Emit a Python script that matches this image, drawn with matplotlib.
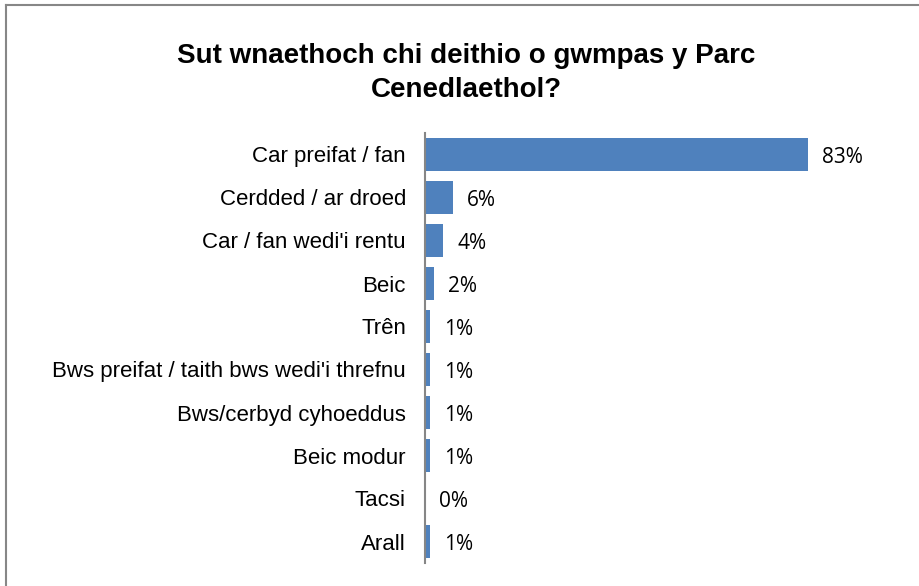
import matplotlib
matplotlib.use("Agg")
import matplotlib.pyplot as plt
from matplotlib.lines import Line2D

categories = ["Car preifat / fan", "Cerdded / ar droed", "Car / fan wedi'i rentu", "Beic", "Trên",
              "Bws preifat / taith bws wedi'i threfnu", "Bws/cerbyd cyhoeddus", "Beic modur", "Tacsi", "Arall"]
values = [83, 6, 4, 2, 1, 1, 1, 1, 0, 1]
value_labels = ["83%", "6%", "4%", "2%", "1%", "1%", "1%", "1%", "0%", "1%"]
title_lines = ["Sut wnaethoch chi deithio o gwmpas y Parc", "Cenedlaethol?"]

W, H = 920, 586
fig = plt.figure(figsize=(W / 100, H / 100), dpi=100)

ax_left, ax_right = 425, 425 + 90 * 383 / 83
ax_top, ax_bot = 133, 563
ax = fig.add_axes([ax_left / W, 1 - ax_bot / H, (ax_right - ax_left) / W, (ax_bot - ax_top) / H])

y = list(range(len(categories)))
ax.barh(y, values, height=0.76, color="#4F81BD")
ax.set_xlim(0, 90)
ax.set_ylim(len(categories) - 0.5, -0.5)
ax.set_yticks(y)
ax.set_yticklabels(categories, fontsize=16, family="Liberation Sans")
ax.tick_params(axis="y", length=0, pad=13.7)
ax.set_xticks([])
for s in ["top", "right", "bottom"]:
    ax.spines[s].set_visible(False)
ax.spines["left"].set_color("#868686")
ax.spines["left"].set_linewidth(1.5)

for yi, v, lab in zip(y, values, value_labels):
    ax.annotate(lab, (v, yi), xytext=(14, -3), textcoords="offset pixels",
                ha="left", va="center", fontsize=15, family="Open Sans")

for line, base in zip(title_lines, [63, 97]):
    fig.text(466 / W, 1 - base / H, line, ha="center", va="baseline", fontsize=20,
             fontweight="bold", family="Liberation Sans")

# outer chart border (top and left visible)
fig.add_artist(Line2D([6.5 / W, 1.0], [1 - 4.5 / H, 1 - 4.5 / H], transform=fig.transFigure,
                      color="#878787", linewidth=1.5))
fig.add_artist(Line2D([6.5 / W, 6.5 / W], [0, 1 - 4.5 / H], transform=fig.transFigure,
                      color="#878787", linewidth=1.5))

fig.savefig("out.png", dpi=100)
